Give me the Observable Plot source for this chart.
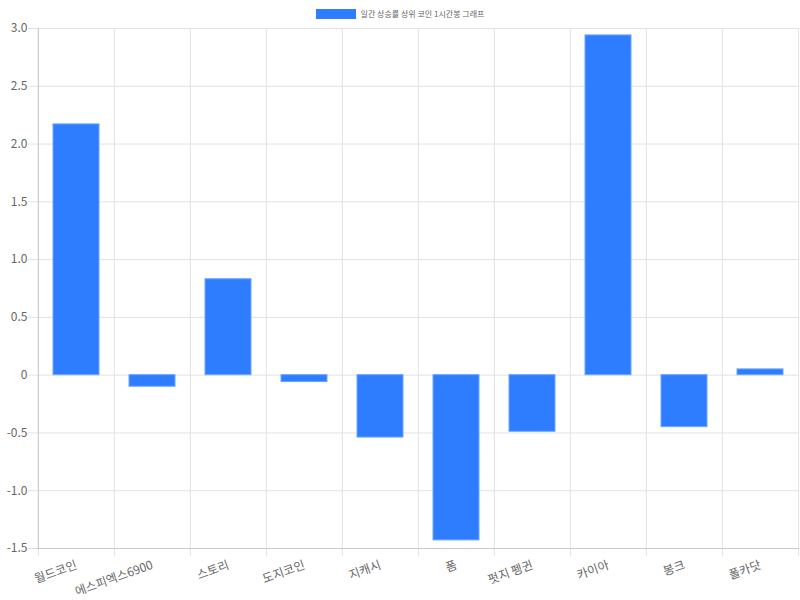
<!DOCTYPE html>
<html><head><meta charset="utf-8">
<script src="https://cdn.jsdelivr.net/npm/d3@7"></script>
<script src="https://cdn.jsdelivr.net/npm/@observablehq/plot@0.6"></script>
<style>
body{margin:0;background:#fff;font-family:"Noto Sans CJK KR","Noto Sans",sans-serif;}
#wrap{position:relative;width:800px;height:600px;}
#legend{position:absolute;top:8px;left:0;width:800px;display:flex;justify-content:center;align-items:center;font-size:8px;color:#666;}
#legend .box{width:40px;height:10px;background:#2e7dff;margin-right:5px;}
</style></head>
<body><div id="wrap"><div id="legend"><span class="box"></span><span id="ltext"></span></div><div id="chart"></div></div>
<script>
const seriesName = "일간 상승률 상위 코인 1시간봉 그래프";
const categories = ["월드코인","에스피엑스6900","스토리","도지코인","지캐시","폼","펏지 펭귄","카이아","봉크","폴카닷"];
const values = [2.17, -0.10, 0.83, -0.06, -0.54, -1.43, -0.49, 2.94, -0.45, 0.05];
const yTicks = [3.0, 2.5, 2.0, 1.5, 1.0, 0.5, 0, -0.5, -1.0, -1.5];

document.getElementById("ltext").textContent = seriesName;
const data = categories.map((c,i)=>({c, v: values[i]}));
const W = 800, H = 600, mL = 36, mR = 1, mT = 28, mB = 52;
const step = (W - mL - mR) / categories.length;
const grid = "#e2e2e2";
const chart = Plot.plot({
  width: W, height: H,
  marginLeft: mL, marginRight: mR, marginTop: mT, marginBottom: mB,
  style: {fontFamily: '"Noto Sans CJK KR","Noto Sans",sans-serif', color: "#666", background: "#fff"},
  x: {domain: categories, paddingInner: 0.4, paddingOuter: 0.2, label: null},
  y: {domain: [-1.5, 3.0], label: null},
  marks: [
    Plot.ruleY(yTicks, {stroke: grid, insetLeft: -8}),
    Plot.ruleX(categories, {x: d=>d, y1: 3.0, y2: -1.5, dx: -step/2, stroke: grid, insetBottom: -8}),
    Plot.ruleX([categories[categories.length-1]], {x: d=>d, y1: 3.0, y2: -1.5, dx: step/2, stroke: grid, insetBottom: -8}),
    Plot.ruleY([-1.5], {stroke: "#c8c8c8"}),
    Plot.ruleX([categories[0]], {x: d=>d, y1: 3.0, y2: -1.5, dx: -step/2, stroke: "#c8c8c8"}),
    Plot.barY(data, {x: "c", y: "v", fill: "#2e7dff", stroke: "#6aa6ff", strokeWidth: 1}),
    Plot.axisY({ticks: yTicks, tickSize: 0, tickPadding: 9, fontSize: 12, fill: "#666",
      tickFormat: d => d === 0 ? "0" : d.toFixed(1)}),
    Plot.axisX({tickSize: 0, tickRotate: -20, tickPadding: 16, fontSize: 12, fill: "#666"})
  ]
});
document.getElementById("chart").appendChild(chart);
</script></body></html>
